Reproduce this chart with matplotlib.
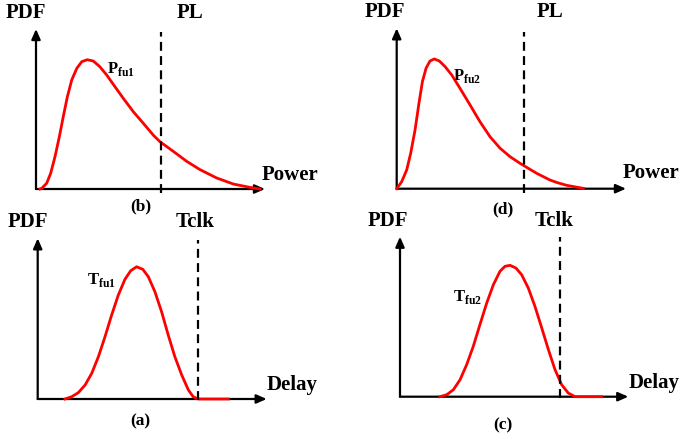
import matplotlib
matplotlib.use('Agg')
import matplotlib.pyplot as plt

plt.rcParams['font.family'] = ['Liberation Serif', 'DejaVu Serif']
plt.rcParams['font.weight'] = 'bold'
plt.rcParams['mathtext.fontset'] = 'custom'
plt.rcParams['mathtext.rm'] = 'Liberation Serif:bold'
plt.rcParams['mathtext.bf'] = 'Liberation Serif:bold'

# curves (x: 0..10 along the arrow, y: 0..1 up the arrow)
pfu1_x = [0.175, 0.25, 0.467, 0.64, 0.83, 1.02, 1.19, 1.37, 1.56, 1.78, 2.0, 2.24, 2.50,
          2.79, 3.09, 3.45, 3.81, 4.25, 4.69, 5.12, 5.41, 5.997, 6.579, 7.162, 7.889,
          8.617, 9.345, 9.782]
pfu1_y = [0.0, 0.004, 0.036, 0.098, 0.202, 0.327, 0.452, 0.577, 0.681, 0.754, 0.796, 0.808,
          0.80, 0.764, 0.712, 0.639, 0.567, 0.483, 0.41, 0.337, 0.296, 0.235, 0.173, 0.121,
          0.069, 0.031, 0.010, 0.0]

pfu2_x = [0.0, 0.218, 0.436, 0.61, 0.80, 0.97, 1.12, 1.28, 1.45, 1.64, 1.86, 2.11, 2.40,
          2.76, 3.20, 3.63, 4.07, 4.51, 4.94, 5.38, 5.74, 6.105, 6.686, 7.0, 7.413, 8.140]
pfu2_y = [0.0, 0.044, 0.117, 0.221, 0.366, 0.532, 0.667, 0.751, 0.796, 0.809, 0.796, 0.761,
          0.709, 0.626, 0.522, 0.418, 0.324, 0.252, 0.2, 0.158, 0.127, 0.096, 0.054, 0.038,
          0.021, 0.002]

tfu1_x = [1.19, 1.48, 1.77, 2.07, 2.36, 2.65, 2.94, 3.23, 3.52, 3.81, 4.06, 4.32, 4.59,
          4.83, 5.12, 5.41, 5.70, 5.99, 6.29, 6.58, 6.79, 7.01, 8.33]
tfu1_y = [0.0, 0.014, 0.039, 0.087, 0.16, 0.263, 0.388, 0.523, 0.647, 0.745, 0.798, 0.823,
          0.807, 0.761, 0.667, 0.543, 0.398, 0.263, 0.149, 0.056, 0.014, 0.0, 0.0]

tfu2_x = [1.75, 2.05, 2.34, 2.63, 2.92, 3.21, 3.50, 3.80, 4.09, 4.38, 4.60, 4.82, 5.08,
          5.33, 5.62, 5.91, 6.21, 6.50, 6.79, 7.08, 7.37, 7.67, 8.83]
tfu2_y = [0.0, 0.0125, 0.044, 0.106, 0.2, 0.315, 0.45, 0.586, 0.7, 0.784, 0.815, 0.821,
          0.804, 0.762, 0.679, 0.565, 0.429, 0.294, 0.169, 0.075, 0.023, 0.0, 0.0]

limit_b, limit_d = 5.459, 5.567
limit_a, limit_c = 6.99, 7.007

W, H = 682, 445
fig = plt.figure(figsize=(W / 100, H / 100), dpi=100)


def panel(ox, oy, ex, ey):
    # axes box from origin pixel (ox, oy) to arrow tips (ex, ey)
    ax = fig.add_axes([ox / W, 1 - oy / H, (ex - ox) / W, (oy - ey) / H])
    ax.set_xlim(0, 10)
    ax.set_ylim(0, 1)
    ax.axis('off')
    arr = dict(arrowstyle='-|>,head_length=0.5,head_width=0.22', color='black',
               lw=1.6, shrinkA=0, shrinkB=0, mutation_scale=12)
    ax.annotate('', xy=(10, 0), xytext=(0, 0), arrowprops=arr, annotation_clip=False)
    ax.annotate('', xy=(0, 1), xytext=(0, 0), arrowprops=arr, annotation_clip=False)
    return ax


def draw(ax, xs, ys, lim, top, bot, name, nx, ny, vlab, vx, xlab, xlx, xly, cap, cx, cy, pdfx):
    ax.plot(xs, ys, color='red', lw=2.0, clip_on=False, solid_joinstyle='round', zorder=3)
    ax.plot([lim, lim], [bot, top], color='black', lw=1.6, ls=(0, (4, 2.4)),
            clip_on=False, zorder=4)
    ax.text(pdfx, 1.1, 'PDF', fontsize=15, fontweight='bold', ha='center', va='center')
    ax.text(vx, 1.1, vlab, fontsize=15, fontweight='bold', ha='center', va='center')
    ax.text(xlx, xly, xlab, fontsize=15, fontweight='bold', ha='left', va='center')
    ax.text(nx, ny, name, fontsize=12, fontweight='bold', ha='left', va='center')
    ax.text(cx, cy, cap, fontsize=12.5, fontweight='bold', ha='center', va='center')


ax_b = panel(36, 189, 265, 29)
draw(ax_b, pfu1_x, pfu1_y, limit_b, 0.98, -0.025, r'P$_{\rm fu1}$', 3.1, 0.75,
     'PL', 6.72, 'Power', 9.85, 0.09, '(b)', 4.58, -0.11, -0.44)

ax_d = panel(396.7, 188.7, 626, 28.3)
draw(ax_d, pfu2_x, pfu2_y, limit_d, 0.975, -0.025, r'P$_{\rm fu2}$', 2.47, 0.70,
     'PL', 6.69, 'Power', 9.85, 0.096, '(d)', 4.65, -0.13, -0.51)

ax_a = panel(37.7, 399, 266.7, 238.3)
draw(ax_a, tfu1_x, tfu1_y, limit_a, 0.99, -0.006, r'T$_{\rm fu1}$', 2.15, 0.74,
     'Tclk', 6.87, 'Delay', 10.0, 0.087, '(a)', 4.47, -0.14, -0.44)

ax_c = panel(400, 396.7, 628.3, 236.7)
draw(ax_c, tfu2_x, tfu2_y, limit_c, 1.0, -0.01, r'T$_{\rm fu2}$', 2.33, 0.62,
     'Tclk', 6.74, 'Delay', 10.02, 0.086, '(c)', 4.49, -0.18, -0.53)

fig.savefig('out.png', dpi=100)
